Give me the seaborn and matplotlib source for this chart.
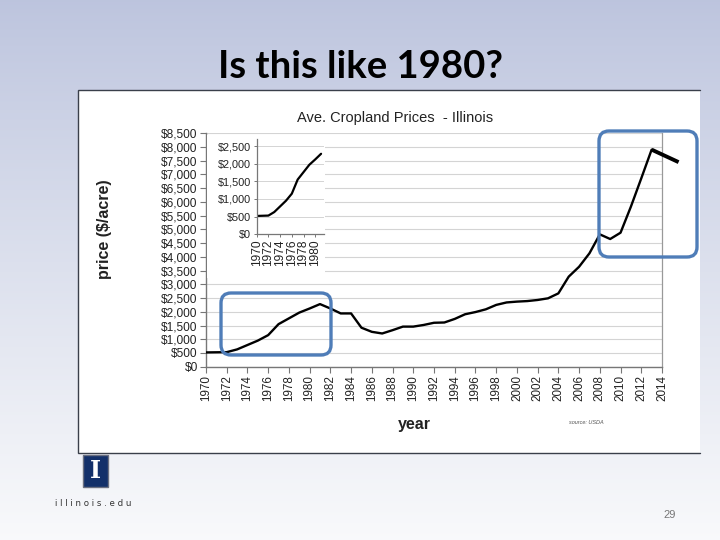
import numpy as np
import matplotlib
matplotlib.use("Agg")
import matplotlib.pyplot as plt
from matplotlib.patches import FancyBboxPatch, Rectangle
import seaborn as sns

# ---- data ----
years = list(range(1970, 2014))
prices = [520, 525, 530, 630, 790, 950, 1150, 1550, 1760, 1970, 2120, 2280,
          2120, 1940, 1940, 1420, 1270, 1210, 1330, 1460, 1460, 1520, 1600, 1610,
          1740, 1910, 1990, 2090, 2250, 2340, 2370, 2390, 2430, 2490, 2670, 3280,
          3640, 4130, 4820, 4650, 4880, 5830, 6860, 7905]
inset_end_year = 1981
annot_years = [2013, 2015.6]
annot_values = [7905, 7450]
y_ticks = list(range(0, 8501, 500))
x_ticks = list(range(1970, 2015, 2))
inset_y_ticks = list(range(0, 2501, 500))
inset_x_ticks = list(range(1970, 1981, 2))

sns.set_style("white")
plt.rcParams['font.family'] = ['Liberation Sans', 'DejaVu Sans']

W, H = 720, 540
fig = plt.figure(figsize=(7.2, 5.4), dpi=100)

# ---- slide background ----
bg = fig.add_axes([0, 0, 1, 1])
bg.set_xlim(0, W); bg.set_ylim(H, 0); bg.axis('off')
t = np.linspace(0, 1, 256)[:, None]
top = np.array([0.74, 0.77, 0.87]); bot = np.array([0.975, 0.978, 0.985])
f = np.clip(t ** 0.9, 0, 1)
grad = (top * (1 - f) + bot * f)[:, None, :] * np.ones((1, 2, 1))
bg.imshow(grad, extent=[0, W, H, 0], aspect='auto', zorder=0)
bg.add_patch(Rectangle((78, 90), 622, 363, facecolor='white', edgecolor='none', zorder=1))
bg.plot([700, 78, 78, 700], [90, 90, 453, 453], color='#3a3f4a', lw=1.0, zorder=2,
        solid_joinstyle='miter')

# ---- main chart ----
ax = fig.add_axes([206 / W, 1 - 366.7 / H, 456 / W, 233.4 / H])
ax.set_facecolor('none')
sns.lineplot(x=years, y=prices, ax=ax, color='black', lw=1.7, zorder=3)
ax.set_xlim(1970, 2014); ax.set_ylim(0, 8500)
ax.set_yticks(y_ticks)
ax.set_yticklabels(['${:,}'.format(v) for v in y_ticks], fontsize=8.6, color='#222222')
ax.set_xticks(x_ticks)
ax.set_xticklabels([str(v) for v in x_ticks], rotation=90, fontsize=8.4, color='#222222')
ax.grid(axis='y', color='#d4d4d4', lw=0.8)
ax.grid(axis='x', visible=False)
for s in ['left', 'bottom']:
    ax.spines[s].set_color('#777777'); ax.spines[s].set_linewidth(1.0)
ax.spines['right'].set_color('#999999'); ax.spines['right'].set_linewidth(0.9)
ax.spines['top'].set_visible(False)
ax.tick_params(axis='both', direction='out', length=4, width=0.8, color='#777777', pad=2,
               left=True, bottom=True)
ax.set_xlabel(''); ax.set_ylabel('')
ax.plot(annot_years, annot_values, color='black', lw=2.8, clip_on=False, zorder=5,
        solid_capstyle='butt')

# ---- inset ----
ibg = fig.add_axes([207 / W, 1 - 278 / H, 118 / W, 143 / H])
ibg.set_facecolor('white'); ibg.set_xticks([]); ibg.set_yticks([])
for s in ibg.spines.values():
    s.set_visible(False)
iax = fig.add_axes([256.7 / W, 1 - 234.3 / H, 67.3 / W, 95 / H])
iax.set_facecolor('none')
sel_x = [y for y in years if y <= inset_end_year]
sel_y = prices[:len(sel_x)]
sns.lineplot(x=sel_x, y=sel_y, ax=iax, color='black', lw=1.6)
iax.set_xlim(1970, 1981.5); iax.set_ylim(0, 2690)
iax.set_yticks(inset_y_ticks)
iax.set_yticklabels(['${:,}'.format(v) for v in inset_y_ticks], fontsize=7.8, color='#222222')
iax.set_xticks(inset_x_ticks)
iax.set_xticklabels([str(v) for v in inset_x_ticks], rotation=90, fontsize=8.6, color='#222222')
iax.grid(axis='y', color='#d4d4d4', lw=0.7)
for s in ['top', 'right']:
    iax.spines[s].set_visible(False)
for s in ['left', 'bottom']:
    iax.spines[s].set_color('#777777'); iax.spines[s].set_linewidth(0.9)
iax.tick_params(axis='both', direction='out', length=2.5, width=0.7, color='#777777', pad=1.5,
                left=True, bottom=True)
iax.set_xlabel(''); iax.set_ylabel('')

# ---- overlay: texts, boxes, logo ----
ov = fig.add_axes([0, 0, 1, 1])
ov.set_xlim(0, W); ov.set_ylim(H, 0); ov.axis('off'); ov.set_facecolor('none')
ov.text(360, 67, 'Is this like 1980?', ha='center', va='center', fontsize=27.5,
        fontweight='bold', family=['Lato', 'DejaVu Sans'], color='black')
ov.text(395, 118, 'Ave. Cropland Prices  - Illinois', ha='center', va='center',
        fontsize=10.5, color='#222222')
ov.text(104, 229, 'price ($/acre)', rotation=90, ha='center', va='center',
        fontsize=11.5, fontweight='bold', color='#222222')
ov.text(414, 424, 'year', ha='center', va='center', fontsize=11.5, fontweight='bold',
        color='#222222')
ov.text(586, 423, 'source: USDA', ha='center', va='center', fontsize=4, style='italic',
        color='#555555')
for (x0, y0, x1, y1) in [(221, 293, 331, 355), (599, 131, 697, 257)]:
    ov.add_patch(FancyBboxPatch((x0, y0), x1 - x0, y1 - y0,
                                boxstyle='round,pad=0,rounding_size=10',
                                facecolor='none', edgecolor='#4f7db8', lw=2.4, zorder=6))
# logo
ov.add_patch(Rectangle((83, 455), 25, 32, facecolor='#13306a', edgecolor='#6a6f80', lw=1.0))
ov.text(95.5, 471.5, 'I', ha='center', va='center', fontsize=17, color='white',
        family=['DejaVu Serif'], fontweight='bold')
ov.text(93.5, 503, 'i l l i n o i s . e d u', ha='center', va='center', fontsize=6.2,
        color='#333333', family=['DejaVu Sans'])
ov.text(670, 515, '29', ha='center', va='center', fontsize=8, color='#777777')

fig.savefig('out.png', dpi=100)
